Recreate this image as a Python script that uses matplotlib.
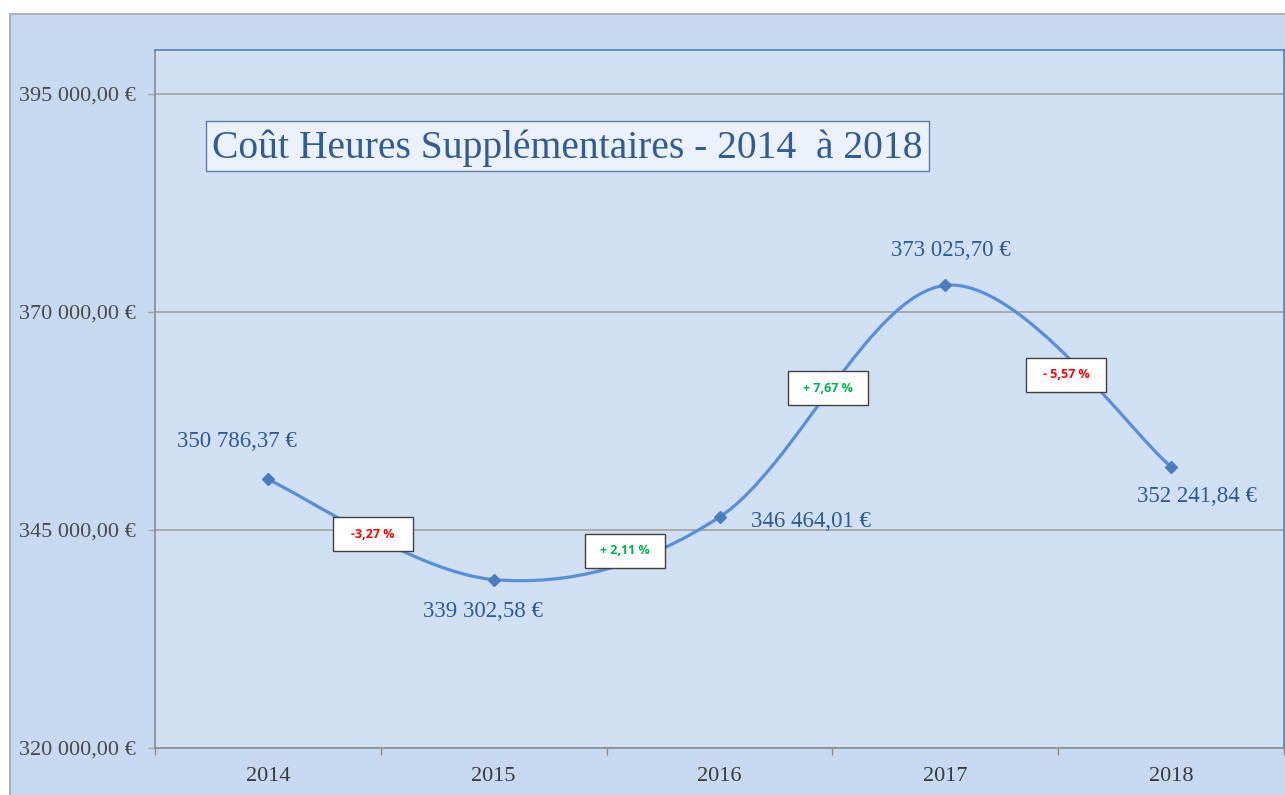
"""Coût heures supplémentaires 2014-2018, smoothed line chart."""

import matplotlib

matplotlib.use("Agg")
import matplotlib.pyplot as plt
import numpy as np
from matplotlib.patches import PathPatch, Rectangle
from matplotlib.path import Path

years = ["2014", "2015", "2016", "2017", "2018"]
costs = [350786.37, 339302.58, 346464.01, 373025.70, 352241.84]
cost_labels = ["350 786,37 €", "339 302,58 €", "346 464,01 €", "373 025,70 €", "352 241,84 €"]
change_labels = ["-3,27 %", "+ 2,11 %", "+ 7,67 %", "- 5,57 %"]
change_colors = ["#ff0000", "#00b050", "#00b050", "#ff0000"]
y_ticks = [320000, 345000, 370000, 395000]
y_tick_labels = ["320 000,00 €", "345 000,00 €", "370 000,00 €", "395 000,00 €"]

SERIF = ["Liberation Serif", "DejaVu Serif"]
W, H = 1285, 795


def fig_rect(x0, y0, w, h, **kw):
    """Rectangle given in top-left pixel coordinates, drawn on the figure."""
    r = Rectangle((x0 / W, (H - y0 - h) / H), w / W, h / H,
                  transform=fig.transFigure, **kw)
    fig.patches.append(r)
    return r


fig = plt.figure(figsize=(W / 100, H / 100), dpi=100, facecolor="white")

# chart area (cropped on the right / bottom)
fig_rect(10, 14, W, H, facecolor="#c6d9f0", edgecolor="#a6a6a6", lw=1.2, zorder=-10)

ax = fig.add_axes([155 / W, (H - 748) / H, (1284 - 155) / W, (748 - 50) / H])
ax.set_facecolor("#d0dff2")

x = np.arange(len(years), dtype=float)
y = np.array(costs)

# Excel-like smoothing: cubic Bezier with Catmull-Rom control points
px = np.concatenate([[x[0]], x, [x[-1]]])
py = np.concatenate([[y[0]], y, [y[-1]]])
verts = [(x[0], y[0])]
codes = [Path.MOVETO]
for i in range(1, len(px) - 2):
    c1 = (px[i] + (px[i + 1] - px[i - 1]) / 6, py[i] + (py[i + 1] - py[i - 1]) / 6)
    c2 = (px[i + 1] - (px[i + 2] - px[i]) / 6, py[i + 1] - (py[i + 2] - py[i]) / 6)
    verts += [c1, c2, (px[i + 1], py[i + 1])]
    codes += [Path.CURVE4] * 3
ax.add_patch(PathPatch(Path(verts, codes), fill=False, edgecolor="#5a8ed6",
                       lw=2.3, zorder=3, capstyle="round"))
ax.plot(x, y, linestyle="none", marker="D", markersize=6,
        color="#4a7ebb", zorder=4)

# value labels
offsets = [(-31, 38), (-11, -32), (91, -4), (6, 35), (26, -30)]
for xi, yi, lab, off in zip(x, y, cost_labels, offsets):
    ax.annotate(lab, (xi, yi), xytext=off, textcoords="offset pixels",
                ha="center", va="center", fontsize=16.5, family=SERIF,
                color="#2f5a91", zorder=5)

ax.set_xlim(-0.5, len(years) - 0.5)
ax.set_ylim(320000, 400000)
ax.set_xticks(x)
ax.set_xticklabels(years, family=SERIF, fontsize=16, color="#3a3a3a")
ax.set_xticks(np.arange(-0.5, len(years)), minor=True)
ax.tick_params(axis="x", which="major", length=0, pad=14)
ax.tick_params(axis="x", which="minor", length=5, width=1, color="#8c8c8c",
               direction="out")
ax.set_yticks(y_ticks)
ax.set_yticklabels(y_tick_labels, family=SERIF, fontsize=16, color="#4a4a4a")
ax.tick_params(axis="y", length=5, width=1, color="#a6a6a6", pad=9)
ax.grid(axis="y", color="#a6a6a6", lw=1.3)
ax.set_axisbelow(True)

for side in ("left", "bottom"):
    ax.spines[side].set_color("#8c8c8c")
    ax.spines[side].set_linewidth(1.2)
for side in ("top", "right"):
    ax.spines[side].set_color("#4f81bd")
    ax.spines[side].set_linewidth(1.2)

# percentage change boxes (pixel centres)
box_centres = [(373, 534), (625, 551), (828, 388), (1066, 375)]
box_w, box_h = 80, 34
for (cx, cy), lab, col in zip(box_centres, change_labels, change_colors):
    fig_rect(cx - box_w / 2, cy - box_h / 2, box_w, box_h,
             facecolor="white", edgecolor="#404040", lw=1.0, zorder=6)
    fig.text(cx / W, (H - cy) / H, lab, ha="center", va="center", fontsize=9,
             fontweight="bold", color=col, family=["Open Sans", "DejaVu Sans"],
             zorder=7)

# title
fig_rect(206, 121, 723, 50, facecolor="#eaf1fa", edgecolor="#5b7fa8", lw=1.0, zorder=6)
fig.text(567 / W, (H - 148) / H, "Coût Heures Supplémentaires - 2014  à 2018",
         ha="center", va="center", fontsize=28.5, family=SERIF, color="#335c91",
         zorder=7)

fig.savefig("out.png", dpi=100, facecolor="white")
